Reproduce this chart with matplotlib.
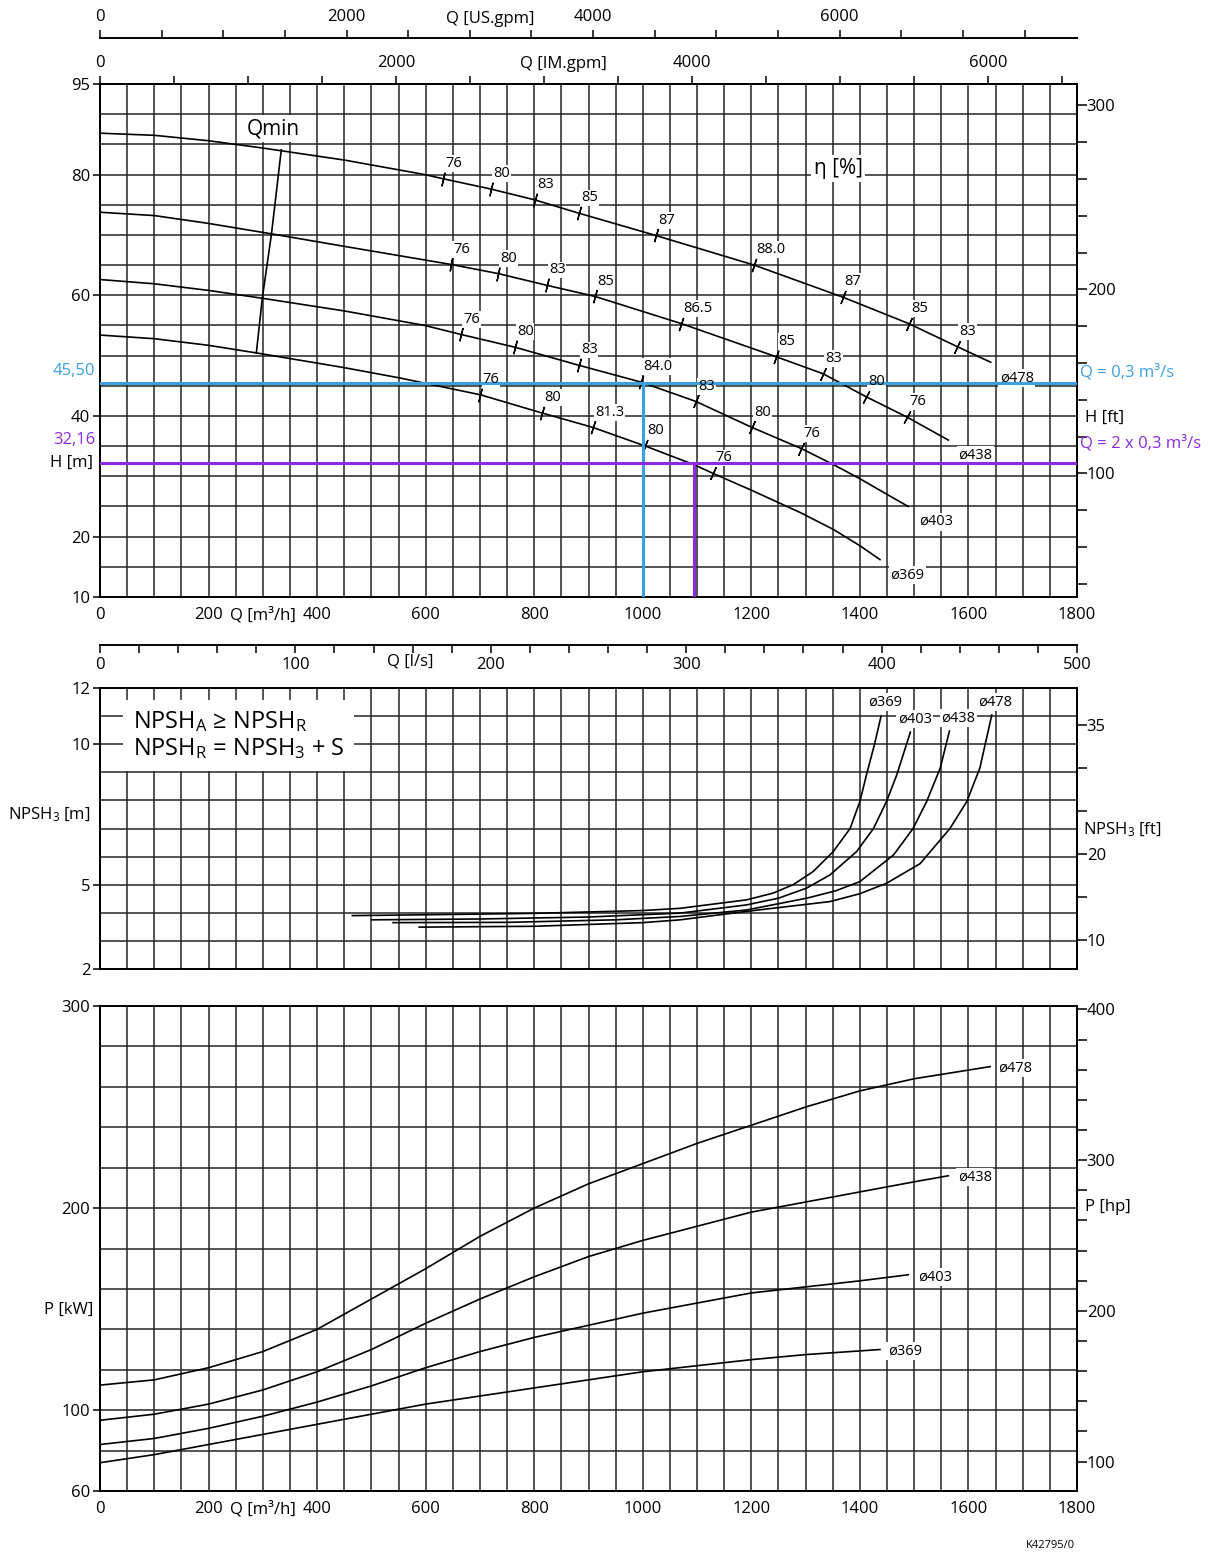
import numpy as np
import matplotlib
matplotlib.use("Agg")
import matplotlib.pyplot as plt
from matplotlib.ticker import MultipleLocator, FixedLocator

plt.rcParams["font.family"] = ["Open Sans", "DejaVu Sans"]
plt.rcParams["mathtext.fontset"] = "custom"
plt.rcParams["mathtext.rm"] = "Open Sans"
plt.rcParams["mathtext.it"] = "Open Sans"

# head curves, H [m] over Q [m3/h]
q_h478 = [0, 100, 200, 299, 450, 598, 632, 720, 801, 882, 1024, 1205, 1368, 1490, 1579, 1641]
h_478 = [86.85, 86.5, 85.6, 84.4, 82.4, 80.0, 79.3, 77.6, 75.8, 73.6, 69.9, 65.0, 59.7, 55.3, 51.5, 48.9]
q_h438 = [0, 100, 200, 314, 450, 647, 733, 823, 912, 1071, 1246, 1332, 1411, 1487, 1563]
h_438 = [73.75, 73.2, 71.9, 70.2, 68.1, 65.1, 63.6, 61.65, 59.8, 55.3, 49.8, 47.0, 43.2, 39.8, 36.0]
q_h403 = [0, 100, 200, 299, 450, 598, 665, 764, 882, 997, 1098, 1201, 1292, 1350, 1400, 1450, 1489]
h_403 = [62.6, 61.9, 60.8, 59.5, 57.4, 55.0, 53.5, 51.4, 48.4, 45.6, 42.4, 38.1, 34.6, 32.0, 29.6, 27.0, 25.0]
q_h369 = [0, 100, 200, 291, 450, 552, 701, 814, 908, 1005, 1095, 1129, 1200, 1290, 1351, 1400, 1437]
h_369 = [53.4, 52.8, 51.7, 50.4, 48.0, 46.3, 43.5, 40.5, 38.1, 35.0, 31.9, 30.5, 27.7, 24.0, 21.2, 18.5, 16.2]

# efficiency marks on the head curves
eta_q478 = [632, 720, 801, 882, 1024, 1205, 1368, 1490, 1579]
eta_l478 = ["76", "80", "83", "85", "87", "88.0", "87", "85", "83"]
eta_q438 = [647, 733, 823, 912, 1071, 1246, 1332, 1411, 1487]
eta_l438 = ["76", "80", "83", "85", "86.5", "85", "83", "80", "76"]
eta_q403 = [665, 764, 882, 997, 1098, 1201, 1292]
eta_l403 = ["76", "80", "83", "84.0", "83", "80", "76"]
eta_q369 = [701, 814, 908, 1005, 1129]
eta_l369 = ["76", "80", "81.3", "80", "76"]

# minimum flow line
q_qmin = [334, 316, 299, 288]
h_qmin = [84.1, 70.2, 59.5, 50.4]

# duty points
q_duty1, h_duty1 = 1000, 45.50
q_duty2, h_duty2 = 1095, 32.16

# NPSH3 [m]
q_n369 = [465, 600, 800, 1000, 1069, 1191, 1240, 1277, 1314, 1351, 1382, 1400, 1412, 1427, 1439]
n_369 = [3.90, 3.93, 3.98, 4.08, 4.16, 4.46, 4.70, 5.00, 5.47, 6.18, 7.00, 7.96, 8.9, 10.0, 11.0]
q_n403 = [501, 700, 900, 1069, 1191, 1250, 1302, 1345, 1394, 1425, 1449, 1468, 1493]
n_403 = [3.75, 3.78, 3.85, 3.99, 4.28, 4.52, 4.88, 5.35, 6.18, 7.0, 7.96, 8.91, 10.43]
q_n438 = [540, 750, 950, 1069, 1191, 1302, 1355, 1400, 1462, 1498, 1523, 1548, 1565]
n_438 = [3.65, 3.66, 3.75, 3.87, 4.10, 4.52, 4.78, 5.11, 6.06, 7.0, 7.96, 9.15, 10.47]
q_n478 = [588, 800, 1000, 1069, 1191, 1345, 1400, 1449, 1511, 1566, 1597, 1621, 1643]
n_478 = [3.49, 3.52, 3.65, 3.75, 4.05, 4.40, 4.68, 5.05, 5.75, 7.0, 7.96, 9.15, 11.04]

# power [kW]
q_p478 = [0, 100, 200, 300, 400, 500, 600, 700, 800, 900, 1000, 1100, 1200, 1300, 1400, 1500, 1640]
p_478 = [112.4, 115, 121, 129, 140, 155, 170, 186, 200, 212, 222, 232, 241, 250, 258, 264, 270]
q_p438 = [0, 100, 200, 300, 400, 500, 600, 700, 800, 900, 1000, 1100, 1200, 1300, 1400, 1500, 1563]
p_438 = [95, 98, 103, 110, 119, 130, 143, 155, 166, 176, 184, 191, 198, 203, 208, 213, 216]
q_p403 = [0, 100, 200, 300, 400, 500, 600, 700, 800, 900, 1000, 1100, 1200, 1300, 1400, 1489]
p_403 = [83, 86, 91, 97, 104, 112, 121, 129, 136, 142, 148, 153, 158, 161, 164, 167]
q_p369 = [0, 100, 200, 300, 400, 500, 600, 700, 800, 900, 1000, 1100, 1200, 1300, 1437]
p_369 = [74, 78, 83, 88, 93, 98, 103, 107, 111, 115, 119, 122, 125, 127.5, 130]

W, HT = 1216, 1555
fig = plt.figure(figsize=(W / 100, HT / 100), dpi=100)

GRID = "#262626"
BLUE = "#3d9fe3"
PURPLE = "#8a2be2"
FS = 12


def box(x0, y0, x1, y1):
    return [x0 / W, 1 - y1 / HT, (x1 - x0) / W, (y1 - y0) / HT]


def ftext(x, y, s, **kw):
    fig.text(x / W, 1 - y / HT, s, **kw)


def setup(ax, ylim, ystep, yticks):
    ax.set_xlim(0, 1800)
    ax.set_ylim(*ylim)
    ax.xaxis.set_major_locator(FixedLocator(range(0, 1801, 200)))
    ax.xaxis.set_minor_locator(MultipleLocator(50))
    ax.yaxis.set_major_locator(FixedLocator(yticks))
    ax.yaxis.set_minor_locator(MultipleLocator(ystep))
    ax.grid(which="both", color=GRID, lw=1.1)
    ax.set_axisbelow(True)
    ax.tick_params(axis="x", which="both", length=0, pad=7, labelsize=FS)
    ax.tick_params(axis="y", which="major", direction="out", length=5,
                   width=1.1, pad=2, labelsize=FS)
    ax.tick_params(axis="y", which="minor", length=0)
    for s in ax.spines.values():
        s.set_linewidth(1.4)


def right_axis(ax, f, finv, majors, step):
    sec = ax.secondary_yaxis("right", functions=(f, finv))
    sec.yaxis.set_major_locator(FixedLocator(majors))
    sec.yaxis.set_minor_locator(MultipleLocator(step))
    sec.tick_params(which="both", direction="out", length=7, width=1.1,
                    pad=0, labelsize=FS)
    sec.spines["right"].set_linewidth(1.4)
    return sec


def label(ax, x, y, s, fs=10.5, pad=1.0, **kw):
    # white patch below the duty lines, text above them
    ax.text(x, y, s, fontsize=fs, color="none", zorder=4.5,
            bbox=dict(fc="white", ec="none", pad=pad), **kw)
    ax.text(x, y, s, fontsize=fs, color="black", zorder=6, **kw)


def eff_marks(ax, q, h, mq, labels):
    bb = ax.get_position()
    lo, hi = ax.get_ylim()
    sx = bb.width * W / 1800
    sy = bb.height * HT / (hi - lo)
    for qm, lab in zip(mq, labels):
        hm = np.interp(qm, q, h)
        slope = (np.interp(qm + 25, q, h) - np.interp(qm - 25, q, h)) / 50
        ang = np.degrees(np.arctan(slope * sy / sx))
        ax.plot(qm, hm, marker=(2, 2, ang), ms=10, mew=1.0, color="black", zorder=4)
        for col, z, bb_ in [("none", 4.5, dict(fc="white", ec="none", pad=0.6)),
                            ("black", 6, None)]:
            ax.annotate(lab, (qm, hm), xytext=(1.5, 11), textcoords="offset points",
                        ha="left", va="center", fontsize=10.5, zorder=z,
                        color=col, bbox=bb_)


# ---------------- head panel
ax_h = fig.add_axes(box(100, 84, 1077, 597))
setup(ax_h, (10, 95), 5, [10, 20, 40, 60, 80, 95])
right_axis(ax_h, lambda m: m * 3.28084, lambda f: f / 3.28084, [100, 200, 300], 20)

for q, h in [(q_h478, h_478), (q_h438, h_438), (q_h403, h_403), (q_h369, h_369)]:
    ax_h.plot(q, h, color="black", lw=1.2, zorder=3)
ax_h.plot(q_qmin, h_qmin, color="black", lw=1.2, zorder=3)

ax_h.axhline(h_duty1, color=BLUE, lw=2.2, zorder=5)
ax_h.plot([q_duty1, q_duty1], [10, h_duty1], color=BLUE, lw=2.2, zorder=5)
ax_h.axhline(h_duty2, color=PURPLE, lw=2.2, zorder=5)
ax_h.plot([q_duty2, q_duty2], [10, h_duty2], color=PURPLE, lw=2.2, zorder=5)

eff_marks(ax_h, q_h478, h_478, eta_q478, eta_l478)
eff_marks(ax_h, q_h438, h_438, eta_q438, eta_l438)
eff_marks(ax_h, q_h403, h_403, eta_q403, eta_l403)
eff_marks(ax_h, q_h369, h_369, eta_q369, eta_l369)

label(ax_h, 320, 87.6, "Qmin", fs=15, pad=2, ha="center", va="center")
label(ax_h, 1360, 81.0, "η [%]", fs=15, pad=2, ha="center", va="center")
for s, q, h in [("ø478", 1689, 46.3), ("ø438", 1613, 33.5),
                ("ø403", 1541, 22.5), ("ø369", 1487, 13.6)]:
    label(ax_h, q, h, s, ha="center", va="center")
ax_h.text(300, -0.02, "Q [m³/h]", transform=ax_h.get_xaxis_transform(),
          ha="center", va="top", fontsize=FS)

# flow scales above the head panel
top_im = ax_h.secondary_xaxis("top", functions=(lambda q: q * 3.6662, lambda g: g / 3.6662))
top_us = ax_h.secondary_xaxis(1 + 46 / 513, functions=(lambda q: q * 4.4029, lambda g: g / 4.4029))
for sec in (top_im, top_us):
    sec.xaxis.set_major_locator(FixedLocator([0, 2000, 4000, 6000]))
    sec.xaxis.set_minor_locator(FixedLocator(range(500, 7900, 500)))
    sec.tick_params(which="both", direction="out", length=6, width=1.1, pad=3, labelsize=FS)
    sec.spines["top"].set_linewidth(1.4)
ftext(563, 64, "Q [IM.gpm]", fontsize=FS, ha="center", va="center")
ftext(490, 19, "Q [US.gpm]", fontsize=FS, ha="center", va="center")

ftext(95, 371, "45,50", color=BLUE, fontsize=FS, ha="right", va="center")
ftext(95, 440, "32,16", color=PURPLE, fontsize=FS, ha="right", va="center")
ftext(93, 463, "H [m]", fontsize=FS, ha="right", va="center")
ftext(1080, 372, "Q = 0,3 m³/s", color=BLUE, fontsize=FS, ha="left", va="center")
ftext(1080, 443, "Q = 2 x 0,3 m³/s", color=PURPLE, fontsize=FS, ha="left", va="center")
ftext(1085, 418, "H [ft]", fontsize=FS, ha="left", va="center")

# ---------------- NPSH panel
ax_n = fig.add_axes(box(100, 688, 1077, 969))
setup(ax_n, (2, 12), 1, [2, 5, 10, 12])
ax_n.tick_params(axis="x", labelbottom=False)
right_axis(ax_n, lambda m: m * 3.28084, lambda f: f / 3.28084, [10, 20, 35], 5)
for q, n in [(q_n369, n_369), (q_n403, n_403), (q_n438, n_438), (q_n478, n_478)]:
    ax_n.plot(q, n, color="black", lw=1.2, zorder=3)
for s, q, n in [("ø369", 1446, 11.49), ("ø403", 1501, 10.9),
                ("ø438", 1581, 10.93), ("ø478", 1649, 11.49)]:
    label(ax_n, q, n, s, ha="center", va="center")
ax_n.text(60, 10.32, "NPSH$_\\mathrm{A}$ ≥ NPSH$_\\mathrm{R}$\nNPSH$_\\mathrm{R}$ = NPSH$_3$ + S",
          fontsize=17, ha="left", va="center", linespacing=1.1, zorder=5,
          bbox=dict(fc="white", ec="none", pad=7))

sec_ls = ax_n.secondary_xaxis(1 + 43 / 281, functions=(lambda q: q / 3.6, lambda l: l * 3.6))
sec_ls.set_alignment("bottom")
sec_ls.xaxis.set_major_locator(FixedLocator(range(0, 501, 100)))
sec_ls.xaxis.set_minor_locator(FixedLocator(range(20, 500, 20)))
sec_ls.tick_params(which="both", direction="out", length=6, width=1.1, pad=3, labelsize=FS)
sec_ls.spines["bottom"].set_linewidth(1.4)
ftext(410, 662, "Q [l/s]", fontsize=FS, ha="center", va="center")

ftext(90, 815, "NPSH$_3$ [m]", fontsize=FS, ha="right", va="center")
ftext(1083, 830, "NPSH$_3$ [ft]", fontsize=FS, ha="left", va="center")

# ---------------- power panel
ax_p = fig.add_axes(box(100, 1006, 1077, 1491))
setup(ax_p, (60, 300), 20, [60, 100, 200, 300])
right_axis(ax_p, lambda k: k / 0.7457, lambda hp: hp * 0.7457, [100, 200, 300, 400], 20)
for q, p in [(q_p478, p_478), (q_p438, p_438), (q_p403, p_403), (q_p369, p_369)]:
    ax_p.plot(q, p, color="black", lw=1.2, zorder=3)
for s, q, p in [("ø478", 1686, 269.3), ("ø438", 1612, 215.4),
                ("ø403", 1538, 165.9), ("ø369", 1483, 129.3)]:
    label(ax_p, q, p, s, ha="center", va="center")
ax_p.text(300, -0.02, "Q [m³/h]", transform=ax_p.get_xaxis_transform(),
          ha="center", va="top", fontsize=FS)
ftext(93, 1310, "P [kW]", fontsize=FS, ha="right", va="center")
ftext(1085, 1207, "P [hp]", fontsize=FS, ha="left", va="center")
ftext(1050, 1545, "K42795/0", fontsize=8, ha="center", va="center")

fig.savefig("out.png", dpi=100)
